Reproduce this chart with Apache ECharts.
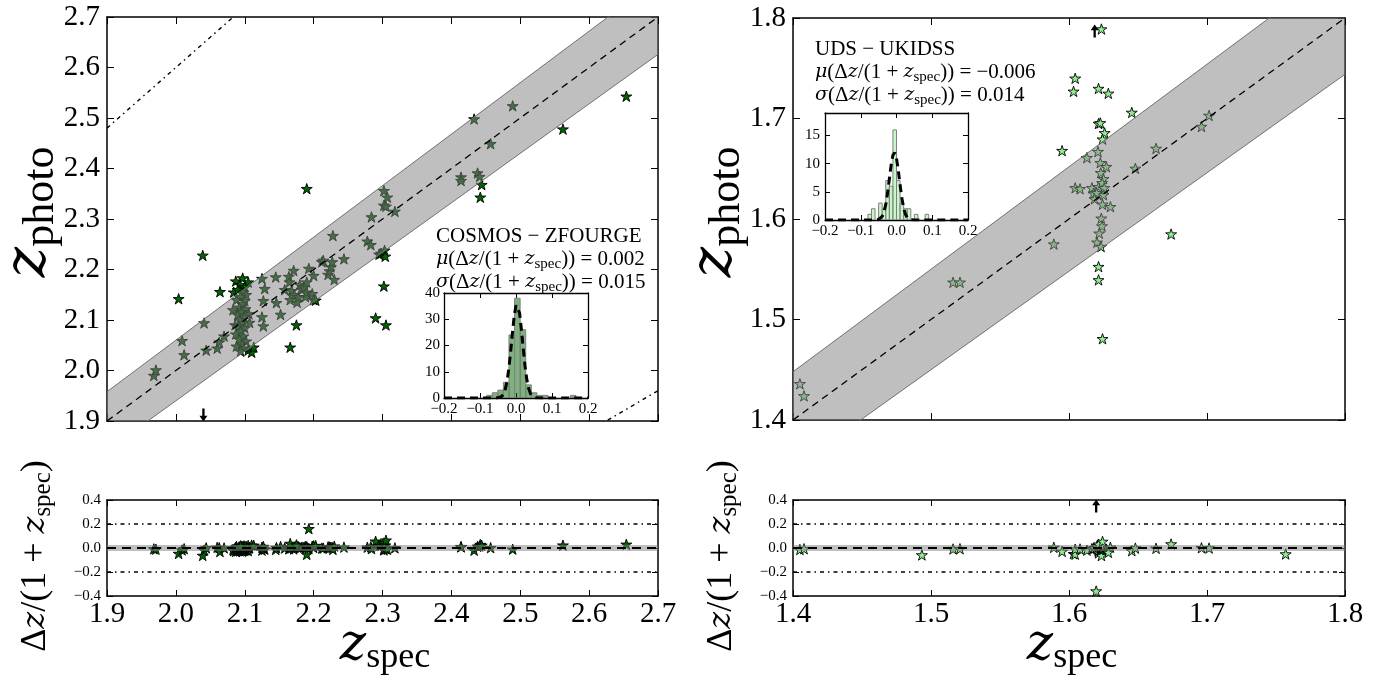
<!DOCTYPE html>
<html><head><meta charset="utf-8">
<script src="https://cdn.jsdelivr.net/npm/echarts@6/dist/echarts.min.js"></script>
<style>html,body{margin:0;padding:0;background:#fff}#c{width:1400px;height:681px}</style>
</head><body><div id="c"></div>
<script>
// ---------------- DATA ----------------
// COSMOS - ZFOURGE : [z_spec, z_photo]
const cosmosPoints = [
[1.968,1.990],[1.971,2.001],
[2.004,2.142],[2.009,2.059],[2.012,2.031],
[2.039,2.228],[2.041,2.094],[2.044,2.040],
[2.060,2.044],[2.063,2.056],[2.064,2.156],[2.070,2.068],
[2.084,2.155],[2.087,2.177],[2.097,2.183],[2.105,2.175],
[2.093,2.170],[2.100,2.165],[2.090,2.160],[2.098,2.155],[2.102,2.150],[2.094,2.146],[2.088,2.140],[2.100,2.138],
[2.096,2.132],[2.092,2.125],[2.101,2.122],[2.083,2.120],[2.095,2.116],[2.106,2.112],[2.090,2.110],[2.099,2.106],
[2.093,2.100],[2.107,2.095],[2.097,2.094],[2.086,2.090],[2.091,2.088],[2.100,2.084],[2.094,2.078],[2.087,2.072],
[2.098,2.068],[2.092,2.062],[2.102,2.058],[2.096,2.052],[2.088,2.048],[2.099,2.044],[2.094,2.038],[2.105,2.040],
[2.110,2.036],[2.113,2.046],
[2.125,2.182],[2.129,2.162],[2.127,2.138],[2.125,2.106],[2.127,2.088],[2.145,2.185],[2.146,2.134],[2.152,2.111],[2.158,2.160],
[2.164,2.186],[2.165,2.175],[2.168,2.158],[2.171,2.198],[2.172,2.150],[2.166,2.140],[2.176,2.135],[2.178,2.146],
[2.180,2.170],[2.183,2.160],[2.186,2.165],[2.188,2.146],[2.190,2.155],[2.190,2.175],[2.193,2.202],[2.198,2.152],
[2.200,2.188],[2.200,2.140],[2.203,2.139],
[2.166,2.046],[2.175,2.090],[2.190,2.360],[2.193,1.680],
[2.212,2.215],[2.214,2.218],[2.221,2.190],[2.223,2.197],[2.225,2.205],[2.227,2.215],[2.228,2.267],[2.230,2.180],[2.244,2.221],
[2.278,2.256],[2.283,2.249],[2.284,2.304],[2.290,2.104],[2.295,2.230],[2.298,2.232],[2.302,2.356],[2.302,2.327],
[2.302,2.167],[2.303,2.238],[2.304,2.226],[2.305,2.325],[2.305,2.090],[2.307,2.343],[2.318,2.315],
[2.414,2.383],[2.414,2.376],[2.433,2.498],[2.438,2.391],[2.441,2.384],[2.442,2.343],[2.444,2.368],[2.457,2.449],
[2.489,2.524],[2.562,2.478],[2.654,2.543]
];
// UDS - UKIDSS : [z_spec, z_photo]
const udsPoints = [
[1.405,1.436],[1.408,1.424],[1.4934,1.638],[1.516,1.537],[1.521,1.537],
[1.589,1.575],[1.595,1.668],[1.6033,1.727],[1.6045,1.740],[1.6045,1.631],[1.608,1.630],[1.613,1.661],
[1.6166,1.631],[1.6178,1.6255],[1.6214,1.632],[1.621,1.667],[1.6214,1.695],[1.6227,1.6956],[1.6258,1.6857],
[1.6243,1.6794],[1.6214,1.7298],[1.6235,1.789],
[1.6227,1.656],[1.627,1.652],[1.623,1.646],[1.625,1.640],[1.624,1.636],[1.6255,1.631],[1.625,1.624],[1.620,1.626],
[1.6185,1.620],[1.6243,1.6146],[1.630,1.6122],[1.6234,1.6007],[1.6239,1.593],[1.6219,1.5858],[1.6203,1.5768],
[1.6232,1.5725],[1.6214,1.5526],[1.6214,1.5394],[1.6243,1.4808],
[1.6197,2.56],[1.6285,1.725],[1.6455,1.706],[1.6481,1.6503],[1.6631,1.6702],[1.674,1.585],[1.696,1.692],
[1.7015,1.703],[1.757,1.895]
];
// out-of-range markers (arrows)
const cosmosArrowDown = [[2.040, 1.912]];
const udsArrowUp = [[1.6186, 1.787]];
const udsResidArrowUp = [[1.6197, 0.35]];

// reference lines
const cosmosLineX = [1.9, 2.7];
const cosmosBandLow = [1.842, 2.626];
const cosmosBandHigh = [1.958, 2.774];
const cosmosOutlierHigh = [2.48, 3.44];
const cosmosOutlierLow = [1.32, 1.96];
const udsLineX = [1.4, 1.8];
const udsBandLow = [1.352, 1.744];
const udsBandHigh = [1.448, 1.856];
const residBand = [-0.025, 0.025];
const residOutlier = [-0.2, 0.2];

// inset histograms
const cosmosHistLo = [-0.0815,-0.066,-0.0505,-0.035,-0.0195,-0.004,0.0115,0.027,0.0425,0.058,0.0735,0.151];
const cosmosHistHi = [-0.066,-0.0505,-0.035,-0.0195,-0.004,0.0115,0.027,0.0425,0.058,0.0735,0.089,0.1665];
const cosmosHistCount = [1,2,3,6,24,38,26,5,2,1,1,1];
const udsHistLo = [-0.08,-0.07,-0.05,-0.04,-0.03,-0.02,-0.01,0.00,0.01,0.02,0.03,0.05,0.08];
const udsHistHi = [-0.07,-0.06,-0.04,-0.03,-0.02,-0.01,0.00,0.01,0.02,0.03,0.04,0.06,0.09];
const udsHistCount = [1,2,3,2,7,6,16,7,3,2,2,1,1];
// gaussian fit curves
const cosmosFitX = [-0.2,-0.1,-0.06,-0.05,-0.045,-0.04,-0.035,-0.03,-0.025,-0.02,-0.015,-0.01,-0.005,0,0.005,0.01,0.015,0.02,0.025,0.03,0.035,0.04,0.045,0.05,0.055,0.06,0.07,0.1,0.2];
const cosmosFitY = [0,0,0.01,0.07,0.21,0.59,1.45,3.2,6.3,11.1,17.5,24.7,31.2,35.3,35.7,32.3,26.1,18.9,12.3,7.1,3.7,1.7,0.71,0.27,0.09,0.03,0,0,0];
const udsFitX = [-0.2,-0.1,-0.06,-0.05,-0.045,-0.04,-0.035,-0.03,-0.025,-0.02,-0.015,-0.01,-0.005,0,0.005,0.01,0.015,0.02,0.025,0.03,0.035,0.04,0.05,0.1,0.2];
const udsFitY = [0,0,0.01,0.09,0.25,0.63,1.41,2.76,4.78,7.28,9.76,11.52,11.97,10.94,8.81,6.24,3.9,2.14,1.03,0.44,0.16,0.05,0,0,0];

// ---------------- CHART ----------------
const FONT = "Liberation Serif";
const IFONT = "DejaVu Serif";
const STAR = 'path://M0,-1L0.2245,-0.309L0.9511,-0.309L0.3633,0.118L0.5878,0.809L0,0.382L-0.5878,0.809L-0.3633,0.118L-0.9511,-0.309L-0.2245,-0.309Z';
const ARROW = 'path://M0,0L4.5,7L1.3,7L1.3,16L-1.3,16L-1.3,7L-4.5,7Z';
const pair = (xs, ys) => xs.map((x, i) => [x, ys[i]]);
const resid = pts => pts.map(([s, p]) => [s, (s - p) / (1 + s)]);
const fmt1 = v => { if (Math.abs(v) < 1e-9) v = 0; return v.toFixed(1).replace('-', '\u2212'); };

const grids = [
  {left:107, top:17, width:551, height:404},   // 0 cosmos main
  {left:793, top:18, width:552, height:402},   // 1 uds main
  {left:107, top:500, width:551, height:96},   // 2 cosmos resid
  {left:793, top:500, width:552, height:96},   // 3 uds resid
  {left:444, top:293, width:144, height:105, show:true, backgroundColor:'#fff', borderWidth:0, z:20}, // 4 cosmos inset
  {left:825, top:113, width:143, height:107, show:true, backgroundColor:'#fff', borderWidth:0, z:20}  // 5 uds inset
].map(g => Object.assign({outerBoundsMode:'none', containLabel:false}, g));

const xAxes = [], yAxes = [];
function addAxes(g, xr, yr, o) {
  const common = (r) => ({
    gridIndex:g, type:'value', min:r[0], max:r[1], interval:r[2],
    splitLine:{show:false}, axisPointer:{show:false},
    axisLine:{show:true, onZero:false, lineStyle:{color:'#000', width:o.lw}},
    axisTick:{show:true, inside:true, length:o.tick, lineStyle:{color:'#000', width:1}},
    z:o.z
  });
  const xl = o.xLabel ? {show:true, fontFamily:FONT, fontSize:o.xFont, color:'#000', margin:o.xMargin, formatter:o.xFmt, showMinLabel:true, showMaxLabel:true} : {show:false};
  const yl = {show:true, fontFamily:FONT, fontSize:o.yFont, color:'#000', margin:o.yMargin, formatter:o.yFmt, showMinLabel:true, showMaxLabel:o.yShowMax !== false};
  xAxes.push(Object.assign(common(xr), {position:'bottom', axisLabel:xl}));
  xAxes.push(Object.assign(common(xr), {position:'top', axisLabel:{show:false}}));
  yAxes.push(Object.assign(common(yr), {position:'left', axisLabel:yl}));
  yAxes.push(Object.assign(common(yr), {position:'right', axisLabel:{show:false}}));
}
addAxes(0, [1.9,2.7,0.1], [1.9,2.7,0.1], {lw:1.5, tick:7, z:0, xLabel:false, yFont:29, yMargin:7, yFmt:fmt1});
addAxes(1, [1.4,1.8,0.1], [1.4,1.8,0.1], {lw:1.5, tick:7, z:0, xLabel:false, yFont:29, yMargin:7, yFmt:fmt1});
addAxes(2, [1.9,2.7,0.1], [-0.4,0.4,0.2], {lw:1.5, tick:6, z:0, xLabel:true, xFont:29, xMargin:4, xFmt:fmt1, yFont:15, yMargin:6, yFmt:fmt1});
addAxes(3, [1.4,1.8,0.1], [-0.4,0.4,0.2], {lw:1.5, tick:6, z:0, xLabel:true, xFont:29, xMargin:4, xFmt:fmt1, yFont:15, yMargin:6, yFmt:fmt1});
addAxes(4, [-0.2,0.2,0.1], [0,40,10], {lw:1.3, tick:5, z:21, xLabel:true, xFont:15, xMargin:4, xFmt:fmt1, yFont:15, yMargin:4, yFmt:v=>String(Math.round(v))});
addAxes(5, [-0.2,0.2,0.1], [0,19,5], {lw:1.3, tick:5, z:21, xLabel:true, xFont:15, xMargin:4, xFmt:fmt1, yFont:15, yMargin:5, yFmt:v=>String(Math.round(v)), yShowMax:false});

const series = [];
const ax = g => ({xAxisIndex:2*g, yAxisIndex:2*g});
function stars(g, data, fill, z) {
  series.push(Object.assign({type:'scatter', data, symbol:STAR, symbolSize:11, symbolKeepAspect:true,
    itemStyle:{color:fill, borderColor:'#000', borderWidth:0.9, opacity:1}, z, clip:true, silent:true}, ax(g)));
}
function line(g, pts, color, width, type, z) {
  series.push(Object.assign({type:'line', data:pts, symbol:'none', showSymbol:false, clip:true, silent:true,
    lineStyle:{color, width, type}, z}, ax(g)));
}
function band(g, xs, lo, hi, z, edge) {
  series.push(Object.assign({type:'custom', clip:true, silent:true, z, data:[[xs[0], lo[0]]],
    renderItem:(params, api) => {
      const pts = [];
      xs.forEach((x, i) => pts.push(api.coord([x, hi[i]])));
      for (let i = xs.length - 1; i >= 0; i--) pts.push(api.coord([xs[i], lo[i]]));
      return {type:'polygon', shape:{points:pts}, style:{fill:'rgba(128,128,128,0.5)', stroke:null}};
    }}, ax(g)));
  if (edge) {
    line(g, pair(xs, lo), '#707070', 1, 'solid', z);
    line(g, pair(xs, hi), '#707070', 1, 'solid', z);
  }
}
function arrows(g, data, rot, z, size) {
  series.push(Object.assign({type:'scatter', data, symbol:ARROW, symbolSize:size, symbolRotate:rot, symbolKeepAspect:false,
    itemStyle:{color:'#000', opacity:1}, z, clip:false, silent:true}, ax(g)));
}
function hist(g, lo, hi, cnt, fill, z) {
  series.push(Object.assign({type:'custom', clip:true, silent:true, z, data:lo.map((l, i) => [l, hi[i], cnt[i]]),
    encode:{x:[0,1], y:2},
    renderItem:(params, api) => {
      const p0 = api.coord([api.value(0), 0]);
      const p1 = api.coord([api.value(1), api.value(2)]);
      return {type:'rect', shape:{x:p0[0], y:p1[1], width:p1[0]-p0[0], height:p0[1]-p1[1]},
        style:{fill, stroke:'#808080', lineWidth:1}};
    }}, ax(g)));
}
const DASHDOT = [4,4,1.5,4];
// cosmos main
stars(0, cosmosPoints, '#006400', 2);
band(0, cosmosLineX, cosmosBandLow, cosmosBandHigh, 3, true);
line(0, pair(cosmosLineX, cosmosLineX), '#000', 1.3, [7,5], 4);
line(0, pair(cosmosLineX, cosmosOutlierHigh), '#000', 1.4, DASHDOT, 4);
line(0, pair(cosmosLineX, cosmosOutlierLow), '#000', 1.4, DASHDOT, 4);
arrows(0, cosmosArrowDown, 180, 5, [8,13]);
// uds main
stars(1, udsPoints, '#90ee90', 2);
band(1, udsLineX, udsBandLow, udsBandHigh, 3, true);
line(1, pair(udsLineX, udsLineX), '#000', 1.3, [7,5], 4);
arrows(1, udsArrowUp, 0, 5, [8,13]);
// residuals
stars(2, resid(cosmosPoints), '#006400', 2);
band(2, cosmosLineX, [residBand[0], residBand[0]], [residBand[1], residBand[1]], 3, false);
line(2, pair(cosmosLineX, [0,0]), '#000', 2, [9,6], 4);
line(2, pair(cosmosLineX, [residOutlier[1], residOutlier[1]]), '#000', 1.4, DASHDOT, 4);
line(2, pair(cosmosLineX, [residOutlier[0], residOutlier[0]]), '#000', 1.4, DASHDOT, 4);
stars(3, resid(udsPoints), '#90ee90', 2);
band(3, udsLineX, [residBand[0], residBand[0]], [residBand[1], residBand[1]], 3, false);
line(3, pair(udsLineX, [0,0]), '#000', 2, [9,6], 4);
line(3, pair(udsLineX, [residOutlier[1], residOutlier[1]]), '#000', 1.4, DASHDOT, 4);
line(3, pair(udsLineX, [residOutlier[0], residOutlier[0]]), '#000', 1.4, DASHDOT, 4);
arrows(3, udsResidArrowUp, 0, 5, [8,13]);
// insets
hist(4, cosmosHistLo, cosmosHistHi, cosmosHistCount, 'rgba(0,100,0,0.5)', 22);
line(4, pair(cosmosFitX, cosmosFitY), '#000', 3, [8,5], 23);
hist(5, udsHistLo, udsHistHi, udsHistCount, 'rgba(144,238,144,0.5)', 22);
line(5, pair(udsFitX, udsFitY), '#000', 3, [8,5], 23);

// ---------------- TEXT ----------------
const rN = fs => ({fontFamily:FONT, fontSize:fs, fill:'#000', lineHeight:fs + 4});
const rI = fs => ({fontFamily:IFONT, fontSize:Math.round(fs * 0.9), fontStyle:'italic', fill:'#000', lineHeight:fs + 4});
const rS = (fs, lh) => ({fontFamily:FONT, fontSize:fs, fill:'#000', lineHeight:lh, verticalAlign:'bottom'});
function txt(x, y, text, rich, opt) {
  return Object.assign({type:'text', x, y, z:40, silent:true,
    style:Object.assign({legacy:false, text, rich, fill:'#000', fontFamily:FONT, fontSize:20, align:'left', verticalAlign:'middle'}, (opt && opt.style) || {})},
    opt && opt.rotation ? {rotation:opt.rotation} : {});
}
const annRich = {n:rN(21), i:rI(21), s:rS(15, 12)};
const mu = '{i|\u03bc}{n|(\u0394}{i|z}{n|/(1 + }{i|z}{s|spec}{n|)) = ';
const sg = '{i|\u03c3}{n|(\u0394}{i|z}{n|/(1 + }{i|z}{s|spec}{n|)) = ';
const photoRich = {z:{fontFamily:IFONT, fontSize:58, fontStyle:'italic', fill:'#000', lineHeight:66},
                   s:{fontFamily:FONT, fontSize:44, fill:'#000', lineHeight:24, verticalAlign:'bottom'}};
const specRich = {z:{fontFamily:IFONT, fontSize:50, fontStyle:'italic', fill:'#000', lineHeight:60},
                  s:{fontFamily:FONT, fontSize:36, fill:'#000', lineHeight:22, verticalAlign:'bottom'}};
const dzRich = {n:rN(36), i:rI(36), s:rS(25, 20)};
const dzText = '{n|\u0394}{i|z}{n|/(1 + }{i|z}{s|spec}{n|)}';
const graphics = [
  txt(436, 236, '{n|COSMOS \u2212 ZFOURGE}', annRich),
  txt(436, 259, mu + '0.002}', annRich),
  txt(436, 282, sg + '0.015}', annRich),
  txt(815, 49, '{n|UDS \u2212 UKIDSS}', annRich),
  txt(815, 72, mu + '\u22120.006}', annRich),
  txt(815, 95, sg + '0.014}', annRich),
  txt(30, 212, '{z|z}{s|photo}', photoRich, {rotation:Math.PI/2, style:{align:'center'}}),
  txt(716, 212, '{z|z}{s|photo}', photoRich, {rotation:Math.PI/2, style:{align:'center'}}),
  txt(385, 646, '{z|z}{s|spec}', specRich, {style:{align:'center'}}),
  txt(1072, 646, '{z|z}{s|spec}', specRich, {style:{align:'center'}}),
  txt(36, 556, dzText, dzRich, {rotation:Math.PI/2, style:{align:'center'}}),
  txt(722, 556, dzText, dzRich, {rotation:Math.PI/2, style:{align:'center'}})
];

const chart = echarts.init(document.getElementById('c'), null, {renderer:'canvas'});
chart.setOption({
  animation:false, backgroundColor:'#fff',
  grid:grids, xAxis:xAxes, yAxis:yAxes, series, graphic:graphics
});
</script></body></html>
